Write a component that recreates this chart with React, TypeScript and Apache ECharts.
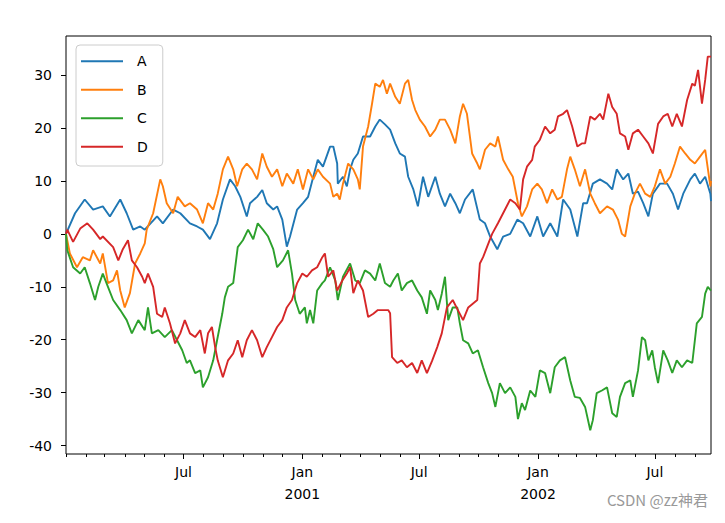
import React, { useEffect, useRef } from "react";
import * as echarts from "echarts";

const seriesNames = ["A", "B", "C", "D"];
const seriesColors = ["#1f77b4", "#ff7f0e", "#2ca02c", "#d62728"];
const startDate = "2000-01-01";
const lastDay = 999;

// [day offset from 2000-01-01, value]
const seriesA: [number, number][] = [
  [0,0],[14,3.9],[29,6.5],[42,4.6],[57,5.2],[68,3.3],[84,6.5],[94,3.9],[104,0.8],[115,1.4],
  [122,0.8],[141,3.3],[150,2],[166,4.6],[177,3.9],[192,2],[203,1.4],[212,0.8],[223,-1],[234,2],
  [243,6.5],[254,10.3],[262,9],[270,7],[280,3.3],[285,5.8],[296,7],[304,8.3],[311,5.8],[321,4.6],
  [327,5.2],[335,2.7],[342,-2.4],[347,-0.5],[358,4.6],[367,5.8],[375,7],[383,10.8],[390,14],[398,12.7],
  [409,16.5],[414,16.5],[420,13.3],[421,9.5],[429,10.8],[435,9],[440,12.2],[445,14],[452,15.2],[460,18.4],
  [471,18.4],[479,20.3],[486,21.6],[494,20.7],[502,19.7],[510,17.1],[517,15.2],[525,14.6],[530,10.8],[538,8.4],
  [545,5.2],[553,10.8],[561,7],[572,10.8],[579,7.6],[587,5.2],[595,7.6],[603,5.8],[610,3.9],[618,6.5],
  [630,8.4],[641,2.7],[649,2],[657,-0.5],[668,-2.9],[677,-0.5],[688,0],[699,2.7],[708,2],[719,-0.5],
  [730,3.3],[739,-0.5],[750,2],[761,-0.5],[770,6.5],[781,4.6],[792,-0.5],[801,5.8],[807,5.8],[816,9.5],
  [827,10.3],[838,9.5],[846,8.4],[853,12.2],[863,10.3],[871,11.4],[878,7.6],[886,8],[894,5.8],[902,3.3],
  [909,7.6],[920,9.5],[931,9.5],[940,7.6],[948,4.6],[956,7.6],[967,10.3],[974,11.4],[982,9.5],[990,10.8],
  [998,7.6],[999,6.2]
];

const seriesB: [number, number][] = [
  [0,0],[6,-3.7],[17,-6.3],[26,-4.4],[37,-5],[42,-3.1],[53,-5.6],[57,-3.7],[65,-9.3],[73,-8.8],
  [79,-6.9],[84,-10.7],[91,-13.9],[99,-11.2],[107,-5.6],[115,-3.7],[122,-1.8],[125,0.8],[135,3.9],[146,10.3],
  [150,9],[156,5.8],[166,3.9],[173,7],[184,5.2],[192,5.8],[203,4.6],[212,2],[220,5.8],[228,4.6],
  [235,7.6],[243,12.2],[251,14.6],[259,12.2],[265,9],[273,12.2],[280,13.3],[288,12.2],[296,10.3],[304,15.2],
  [311,12.7],[319,10.8],[327,12.2],[335,9],[342,11.4],[352,9.5],[359,12.2],[367,8.4],[375,12.2],[383,10.3],
  [390,12.2],[398,10.8],[409,9.5],[414,7],[420,7.6],[424,6.5],[429,9.5],[437,13.3],[445,12.2],[452,10.3],
  [455,8.4],[460,16.5],[468,20.3],[474,24.6],[479,28.4],[486,27.8],[491,29.1],[497,26.5],[502,28.4],[510,25.9],
  [517,24.6],[525,28.4],[530,29.1],[536,25.3],[541,23.4],[548,21.6],[556,20.3],[564,18.4],[572,19.7],[579,21.6],
  [587,21.6],[595,19.7],[603,17.1],[610,22.2],[615,24.6],[621,22.7],[629,15.2],[637,13.3],[641,12.2],[649,15.9],
  [657,17.1],[665,16.5],[669,18.4],[677,14],[685,12.2],[692,10.8],[700,5.8],[706,3.3],[714,5.2],[722,8.4],
  [730,9.5],[737,8.4],[745,5.8],[753,8.4],[761,6.5],[768,7],[776,12.2],[781,14.6],[788,12.2],[796,9],
  [804,12.2],[812,7.6],[819,5.8],[827,3.9],[838,5.2],[847,4.6],[855,2.7],[861,0],[866,-0.5],[874,5.2],
  [881,7.6],[889,9.5],[897,7.6],[905,7],[912,9],[920,12.2],[928,9.5],[936,10.8],[943,13.3],[951,16.5],
  [959,15.2],[967,14],[974,13.3],[982,14.6],[990,15.9],[998,9],[999,10]
];

const seriesC: [number, number][] = [
  [0,0],[2,-3.1],[11,-6.3],[22,-7.5],[29,-6.3],[37,-9.3],[45,-12.5],[50,-10],[57,-7.5],[65,-10],
  [73,-12.5],[84,-14.4],[94,-16.3],[102,-18.8],[112,-16.3],[122,-18.2],[127,-13.9],[133,-18.8],[143,-18.2],[153,-19.5],
  [164,-18.2],[172,-20.1],[180,-22],[187,-24.4],[192,-23.9],[200,-26.3],[208,-25.8],[212,-29],[220,-27.1],[228,-23.9],
  [234,-20.1],[242,-15.1],[246,-12],[251,-10],[259,-9.3],[266,-2.5],[274,-1.2],[282,0.8],[290,-1],[297,2],
  [305,0.8],[313,-0.5],[321,-2.9],[327,-6.3],[336,-5],[344,-3.1],[350,-7.5],[355,-12.5],[362,-15.1],[370,-13.9],
  [373,-16.9],[378,-14.4],[383,-16.9],[389,-10.7],[397,-9.3],[401,-8.8],[409,-6.3],[417,-8.8],[421,-12.5],[429,-8.1],
  [440,-5.6],[448,-8.8],[455,-9.3],[463,-6.9],[471,-7.5],[479,-8.8],[486,-5.6],[494,-9.3],[502,-10],[507,-8.8],
  [514,-7.5],[520,-10.7],[528,-9.3],[536,-8.8],[544,-10.7],[551,-12],[559,-15.1],[564,-10.7],[572,-12.5],[576,-14.4],
  [582,-11.3],[587,-8.1],[592,-16.3],[599,-13.9],[606,-13.9],[610,-16.9],[615,-20.1],[623,-20.7],[630,-22.6],[638,-22],
  [646,-25.2],[654,-28.2],[660,-30.1],[665,-32.7],[672,-28.2],[680,-30.1],[688,-29],[696,-30.8],[700,-35],[706,-32],
  [711,-33.3],[719,-29.6],[727,-30.8],[734,-25.8],[742,-26.3],[750,-30.1],[757,-25.2],[765,-23.9],[773,-23.3],[781,-27.7],
  [788,-30.8],[796,-31],[804,-32.7],[812,-37.1],[816,-35.2],[822,-30.1],[830,-29.6],[838,-29],[846,-33.9],[853,-34.6],
  [858,-30.8],[866,-28.2],[874,-27.7],[878,-30.8],[886,-25.8],[892,-19.5],[897,-20.1],[902,-23.9],[908,-22],[912,-25.2],
  [917,-28.2],[925,-22],[932,-23.9],[939,-26.3],[946,-23.9],[954,-25.2],[962,-23.9],[970,-24.4],[977,-16.9],[985,-15.7],
  [990,-11.3],[994,-10],[999,-10.7]
];

const seriesD: [number, number][] = [
  [0,0],[2,0.8],[11,-1.5],[22,1],[33,2],[42,0.8],[53,-1],[57,-0.5],[73,-2.5],[81,-5],
  [88,-2.9],[96,-1.2],[102,-5],[110,-6.3],[118,-8.1],[122,-9.3],[127,-7.5],[135,-10],[141,-15.1],[149,-15.7],
  [153,-13.9],[161,-16.9],[169,-20.7],[177,-18.8],[184,-16.3],[192,-18.8],[200,-19.5],[208,-18.2],[215,-22.6],[220,-18.8],
  [226,-17.6],[231,-21.4],[235,-23.9],[243,-27.1],[251,-23.9],[259,-22.6],[266,-20.1],[273,-23.3],[280,-20.1],[288,-18.2],
  [296,-20.1],[304,-23.3],[311,-21.4],[319,-19.5],[327,-17.6],[335,-16.3],[342,-13.9],[350,-12.5],[358,-9.3],[366,-7.5],
  [373,-8.1],[381,-6.9],[389,-6.3],[397,-4.4],[401,-3.7],[406,-8.1],[414,-6.9],[420,-10.7],[428,-8.8],[435,-7.5],
  [440,-6.3],[445,-11.2],[452,-8.8],[460,-10.7],[468,-15.7],[476,-15.1],[483,-14.4],[491,-14.4],[499,-14.4],[502,-15],
  [505,-23.3],[513,-24.4],[520,-23.9],[528,-25.2],[536,-24.4],[544,-26.3],[551,-23.9],[559,-26.3],[567,-24],[575,-21.4],
  [582,-18.8],[590,-13.9],[599,-12.5],[607,-14.4],[615,-16.3],[623,-13.9],[630,-13.2],[637,-12.5],[641,-5.6],[646,-4.4],
  [652,-2.5],[660,0],[669,2],[680,4.6],[688,6.5],[696,5.8],[703,4.6],[708,10.3],[714,12.7],[722,14],
  [726,16.5],[734,17.8],[742,20.3],[750,19],[757,19.7],[762,22.2],[770,22.7],[776,23.4],[784,20.3],[792,16.5],
  [799,17.1],[804,17.1],[812,22.2],[819,21.6],[827,22.7],[832,21.6],[840,26.5],[846,24],[853,22.7],[858,19],
  [866,18.4],[871,15.9],[878,19],[886,19.7],[894,18.4],[902,17.1],[909,15.2],[917,20.8],[925,22.2],[932,22.7],
  [939,20.3],[946,22.7],[954,20.3],[962,25.3],[970,28.4],[974,28],[979,31],[985,24.6],[990,29.1],[994,33.5],
  [999,33.5]
];

const allSeries = [seriesA, seriesB, seriesC, seriesD];

const yTicks = [-40, -30, -20, -10, 0, 10, 20, 30];
const yMin = -41.6;
const yMax = 37.4;

const xMajorDates = ["2000-07-01", "2001-01-01", "2001-07-01", "2002-01-01", "2002-07-01"];
const xMajorLabels = ["Jul", "Jan\n2001", "Jul", "Jan\n2002", "Jul"];

const watermark = "CSDN @zz神君";

const DAY = 86400000;
const startMs = Date.parse(startDate + "T00:00:00Z");
const dayOf = (iso: string) => Math.round((Date.parse(iso + "T00:00:00Z") - startMs) / DAY);

const majorDays = xMajorDates.map(dayOf);
const minorDays: number[] = [];
for (let y = 2000; y <= 2002; y++) {
  for (let m = 0; m < 12; m++) {
    const d = Math.round((Date.UTC(y, m, 1) - startMs) / DAY);
    if (d >= 0 && d <= lastDay) minorDays.push(d);
  }
}

const FONT = "DejaVu Sans";

export default function App() {
  const ref = useRef<HTMLDivElement>(null);
  useEffect(() => {
    if (!ref.current) return;
    const chart = echarts.init(ref.current, undefined, { renderer: "svg" });
    const gridBox = { left: 66, top: 36, right: 14, bottom: 69 };
    chart.setOption({
      animation: false,
      backgroundColor: "#ffffff",
      grid: [
        { ...gridBox, show: true, borderColor: "#000", borderWidth: 1, backgroundColor: "transparent" },
        { ...gridBox, show: false },
      ],
      xAxis: [
        {
          type: "value", gridIndex: 0, min: 0, max: lastDay, position: "bottom",
          axisLine: { show: false, onZero: false }, splitLine: { show: false },
          axisLabel: { show: false },
          axisTick: { show: true, customValues: minorDays, length: 3, lineStyle: { color: "#000", width: 1 } },
        },
        {
          type: "value", gridIndex: 1, min: 0, max: lastDay, position: "bottom",
          axisLine: { show: false, onZero: false }, splitLine: { show: false },
          axisTick: { show: true, customValues: majorDays, length: 5, lineStyle: { color: "#000", width: 1 } },
          axisLabel: {
            show: true, customValues: majorDays,
            formatter: (v: number) => {
              const i = majorDays.indexOf(Math.round(v));
              return i >= 0 ? xMajorLabels[i] : "";
            },
            color: "#000", fontSize: 14, fontFamily: FONT, lineHeight: 22, margin: 7,
          },
        },
      ],
      yAxis: [
        {
          type: "value", gridIndex: 0, min: yMin, max: yMax,
          axisLine: { show: false, onZero: false }, splitLine: { show: false },
          axisTick: { show: true, customValues: yTicks, length: 5, lineStyle: { color: "#000", width: 1 } },
          axisLabel: { show: true, customValues: yTicks, color: "#000", fontSize: 14, fontFamily: FONT, margin: 14 },
        },
        { type: "value", gridIndex: 1, min: yMin, max: yMax, show: false },
      ],
      legend: {
        orient: "vertical", left: 76, top: 45,
        data: seriesNames,
        selectedMode: false,
        icon: "rect",
        itemWidth: 42, itemHeight: 2.2, itemGap: 12,
        padding: [8, 15, 11, 5],
        borderColor: "#cccccc", borderWidth: 1, borderRadius: 4,
        backgroundColor: "rgba(255,255,255,0.8)",
        textStyle: { color: "#000", fontSize: 14, fontFamily: FONT, lineHeight: 16.5, padding: [0, 0, 0, 9] },
      },
      series: allSeries.map((data, i) => ({
        type: "line", name: seriesNames[i], xAxisIndex: 0, yAxisIndex: 0,
        data, symbol: "none",
        lineStyle: { color: seriesColors[i], width: 1.9 },
        itemStyle: { color: seriesColors[i] },
        emphasis: { disabled: true },
      })),
      graphic: [
        {
          type: "text", right: 17, top: 492, z: 100,
          style: { text: watermark, fill: "#999", fontSize: 15, fontFamily: "Noto Sans CJK SC" },
        },
      ],
    });
    return () => chart.dispose();
  }, []);
  return (
    <div
      ref={ref}
      style={{ position: "fixed", left: 0, top: 0, width: 725, height: 523, background: "#fff" }}
    />
  );
}
